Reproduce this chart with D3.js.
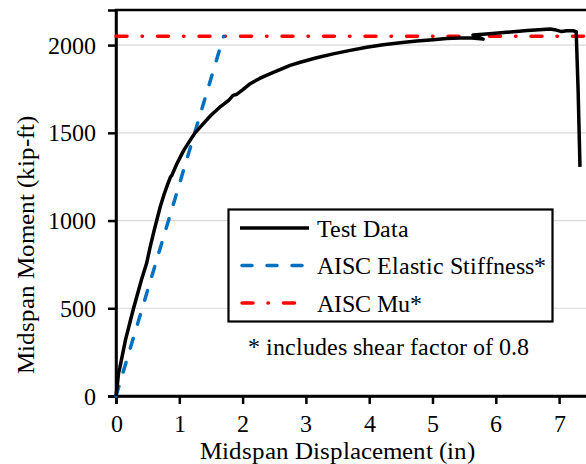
<!DOCTYPE html>
<html>
<head>
<meta charset="utf-8">
<script src="https://cdn.jsdelivr.net/npm/d3@7"></script>
<style>
  @font-face {
    font-family: "ChartSerif";
    src: local("Liberation Serif"), local("LiberationSerif"), local("LiberationSerif-Regular"), local("Liberation Serif Regular"), local("Times New Roman"), local("DejaVu Serif");
  }
  html, body { margin: 0; padding: 0; background: #fff; }
  svg text { font-family: "ChartSerif", "Liberation Serif", "Times New Roman", "DejaVu Serif", serif; }
</style>
</head>
<body>
<svg id="chart" width="586" height="464"></svg>
<script>
// Moment–displacement response of the test specimen (x: in, y: kip-ft)
const testDisp = [0, 0.02, 0.04, 0.06, 0.15, 0.27, 0.40, 0.485, 0.54, 0.60, 0.65, 0.70, 0.76, 0.82, 0.86, 0.88, 0.96, 1.07, 1.17, 1.25, 1.38, 1.50, 1.64, 1.78, 1.85, 1.91, 2.00, 2.12, 2.27, 2.43, 2.60, 2.75, 2.91, 3.17, 3.43, 3.70, 3.96, 4.22, 4.49, 4.75, 5.01, 5.22, 5.43, 5.62, 5.80, 5.64, 5.90, 6.17, 6.50, 6.86, 6.93, 7.04, 7.12, 7.22, 7.27, 7.30, 7.33];
const testMoment = [0, 60, 130, 160, 320, 490, 660, 758, 850, 940, 1010, 1080, 1150, 1210, 1248, 1256, 1322, 1400, 1457, 1500, 1552, 1600, 1646, 1685, 1713, 1720, 1745, 1780, 1810, 1836, 1862, 1884, 1902, 1928, 1950, 1970, 1988, 2002, 2013, 2023, 2031, 2037, 2041, 2040, 2034, 2058, 2065, 2073, 2083, 2092, 2088, 2077, 2082, 2082, 2077, 1750, 1306];

// AISC elastic stiffness line (includes shear factor of 0.8)
const elasticDisp = [0, 1.70];
const elasticMoment = [0, 2050];

// AISC nominal flexural capacity Mu
const muMoment = 2050;

const xTicks = [0, 1, 2, 3, 4, 5, 6, 7];
const yTicks = [0, 500, 1000, 1500, 2000];

const legendLabels = ["Test Data", "AISC Elastic Stiffness*", "AISC Mu*"];
const footnote = "* includes shear factor of 0.8";
const xTitle = "Midspan Displacement (in)";
const yTitle = "Midspan Moment (kip-ft)";

const svg = d3.select("#chart");
const W = 586, H = 464;
const plotLeft = 116, plotTop = 10, plotBottom = 396;
const serif = '"ChartSerif", "Liberation Serif", "Times New Roman", "DejaVu Serif", serif';
const dashMu = "11 15 0.5 15";
const dashElastic = "10 15";

const x = d3.scaleLinear().domain([0, 8]).range([plotLeft, plotLeft + 8 * 63.3]);
const y = d3.scaleLinear().domain([0, 2200]).range([plotBottom, plotTop]);

const colors = { test: "#000000", elastic: "#0070C0", mu: "#FF0000" };

// gridlines
svg.append("g")
  .selectAll("line")
  .data(yTicks.filter(d => d > 0))
  .join("line")
  .attr("x1", plotLeft).attr("x2", x(8))
  .attr("y1", d => y(d)).attr("y2", d => y(d))
  .attr("stroke", "#d9d9d9").attr("stroke-width", 1.2);

// plot frame
svg.append("rect")
  .attr("x", plotLeft).attr("y", plotTop)
  .attr("width", x(8) - plotLeft).attr("height", plotBottom - plotTop)
  .attr("fill", "none").attr("stroke", "#000").attr("stroke-width", 2.5);

// axes
const xAxis = d3.axisBottom(x).tickValues(xTicks).tickSize(8).tickPadding(11).tickFormat(d3.format("d"));
const yAxis = d3.axisLeft(y).tickValues(yTicks).tickSize(8).tickPadding(12).tickFormat(d3.format("d"));

const gx = svg.append("g").attr("transform", `translate(0,${plotBottom})`).call(xAxis);
const gy = svg.append("g").attr("transform", `translate(${plotLeft},0)`).call(yAxis);
[gx, gy].forEach(g => {
  g.attr("font-family", serif).attr("font-size", 24);
  g.select(".domain").attr("stroke", "#000").attr("stroke-width", 2.5);
  g.selectAll(".tick line").attr("stroke", "#000").attr("stroke-width", 2.5);
  g.selectAll(".tick text").attr("fill", "#000");
});
gy.selectAll(".tick text").attr("dy", "0.34em");

// series
const line = d3.line().x(d => x(d[0])).y(d => y(d[1]));

svg.append("line")
  .attr("x1", plotLeft).attr("x2", W)
  .attr("y1", y(muMoment)).attr("y2", y(muMoment))
  .attr("stroke", colors.mu).attr("stroke-width", 3.5)
  .attr("stroke-linecap", "round")
  .attr("stroke-dasharray", dashMu);

svg.append("path")
  .datum(elasticDisp.map((d, i) => [d, elasticMoment[i]]))
  .attr("d", line)
  .attr("fill", "none")
  .attr("stroke", colors.elastic).attr("stroke-width", 3.5)
  .attr("stroke-linecap", "round")
  .attr("stroke-dasharray", dashElastic);

svg.append("path")
  .datum(testDisp.map((d, i) => [d, testMoment[i]]))
  .attr("d", line)
  .attr("fill", "none")
  .attr("stroke", colors.test).attr("stroke-width", 3.5)
  .attr("stroke-linejoin", "round");

// legend
const lg = svg.append("g").attr("font-family", serif);
lg.append("rect")
  .attr("x", 228.5).attr("y", 209.5).attr("width", 324).attr("height", 112)
  .attr("fill", "#fff").attr("stroke", "#000").attr("stroke-width", 2.2);

const legendItems = [
  { label: legendLabels[0], color: colors.test, dash: null },
  { label: legendLabels[1], color: colors.elastic, dash: dashElastic },
  { label: legendLabels[2], color: colors.mu, dash: dashMu }
];
legendItems.forEach((it, i) => {
  const ly = 228 + i * 37.5;
  const ln = lg.append("line")
    .attr("x1", it.dash ? 242 : 240).attr("x2", 309)
    .attr("y1", ly).attr("y2", ly)
    .attr("stroke", it.color).attr("stroke-width", 3.5);
  if (it.dash) ln.attr("stroke-dasharray", it.dash).attr("stroke-linecap", "round");
  lg.append("text")
    .attr("x", 316.5).attr("y", ly + 8.5)
    .attr("font-size", 24).attr("fill", "#000")
    .text(it.label);
});

// footnote
svg.append("text")
  .attr("x", 248).attr("y", 355)
  .attr("font-family", serif)
  .attr("font-size", 24).attr("fill", "#000")
  .text(footnote);

// axis titles
svg.append("text")
  .attr("x", 337).attr("y", 459)
  .attr("text-anchor", "middle")
  .attr("font-family", serif)
  .attr("font-size", 25).attr("fill", "#000")
  .text(xTitle);

svg.append("text")
  .attr("transform", "translate(34,245) rotate(-90)")
  .attr("text-anchor", "middle")
  .attr("font-family", serif)
  .attr("font-size", 25).attr("fill", "#000")
  .text(yTitle);
</script>
</body>
</html>
